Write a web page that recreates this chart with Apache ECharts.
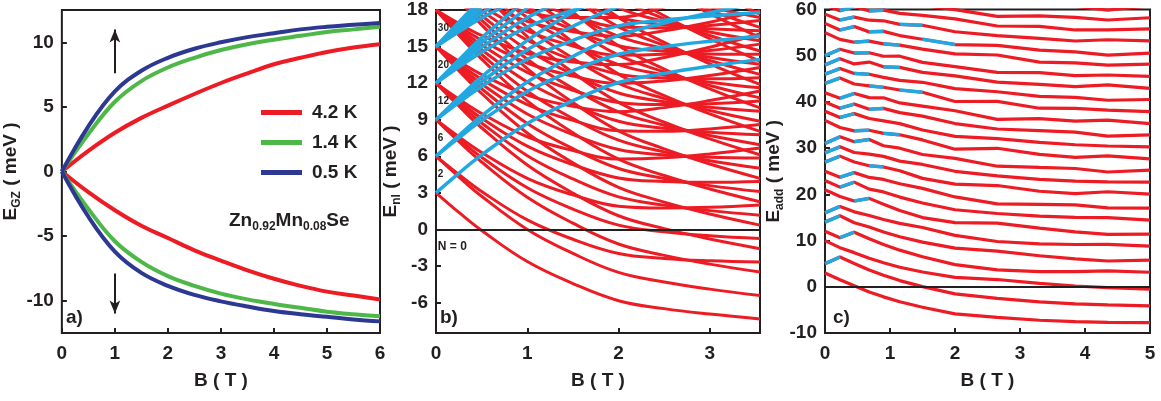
<!DOCTYPE html>
<html><head><meta charset="utf-8">
<script src="https://cdn.jsdelivr.net/npm/echarts@6/dist/echarts.min.js"></script>
<style>html,body{margin:0;padding:0;background:#fff}#c{width:1161px;height:401px}</style>
</head><body><div id="c"></div>
<script>
// ---------- Panel a: giant Zeeman splitting E_GZ(B) ----------
const aB = [0,0.5,1,1.5,2,2.5,3,3.5,4,4.5,5,5.5,6];
const aUp42 = [0,1.6,3.0,4.15,5.1,6.0,6.85,7.6,8.3,8.8,9.25,9.6,9.85];
const aUp14 = [0,2.9,5.4,7.0,8.05,8.8,9.4,9.85,10.2,10.5,10.8,11.0,11.2];
const aUp05 = [0,3.5,6.2,7.8,8.8,9.5,10.0,10.4,10.7,11.0,11.2,11.35,11.5];
const aDn42 = [0,-1.6,-3.0,-4.2,-5.15,-6.1,-6.9,-7.65,-8.3,-8.85,-9.3,-9.6,-9.9];
const aDn14 = [0,-2.9,-5.4,-7.0,-8.1,-8.85,-9.45,-9.9,-10.25,-10.55,-10.85,-11.05,-11.2];
const aDn05 = [0,-3.5,-6.2,-7.85,-8.85,-9.55,-10.05,-10.45,-10.8,-11.05,-11.25,-11.45,-11.6];
const aLegend = ['4.2 K','1.4 K','0.5 K'];
const aArrows = [[1,7.6,11.0],[1,-7.9,-11.0]];
const aYTicks = [-10,-5,0,5,10];

// ---------- Panel b: single-particle levels E_nl(B) ----------
const bB = [0,0.25,0.5,1,1.5,2,2.5,3,3.55];
const bRed = [
 [3,1.4,-0.09,-2.64,-4.44,-5.85,-6.5,-6.95,-7.35],
 [6,4.31,2.72,0.0,-1.97,-3.53,-4.31,-4.9,-5.43],
 [6,4.5,3.11,0.78,-0.81,-1.98,-2.38,-2.57,-2.67],
 [9,7.21,5.53,2.64,0.51,-1.2,-2.13,-2.85,-3.5],
 [9,7.41,5.92,3.42,1.67,0.35,-0.19,-0.52,-0.75],
 [9,7.6,6.31,4.19,2.83,1.9,1.75,1.81,2.0],
 [12,10.12,8.34,5.28,2.98,1.12,0.06,-0.79,-1.58],
 [12,10.31,8.73,6.05,4.14,2.67,1.99,1.54,1.17],
 [12,10.51,9.12,6.83,5.31,4.22,3.93,3.86,3.93],
 [12,10.7,9.51,7.6,6.47,5.77,5.87,6.19,6.68],
 [15,13.02,11.15,7.91,5.46,3.45,2.24,1.26,0.35],
 [15,13.22,11.54,8.69,6.62,5.0,4.18,3.59,3.1],
 [15,13.41,11.93,9.47,7.78,6.55,6.12,5.92,5.85],
 [15,13.6,12.32,10.24,8.94,8.1,8.05,8.24,8.6],
 [15,13.8,12.71,11.02,10.1,9.65,9.99,10.57,11.35],
 [18,15.93,13.97,10.55,7.93,5.77,4.42,3.32,2.27],
 [18,16.12,14.35,11.33,9.09,7.32,6.36,5.64,5.02],
 [18,16.32,14.74,12.1,10.26,8.87,8.3,7.97,7.77],
 [18,16.51,15.13,12.88,11.42,10.42,10.24,10.3,10.53],
 [18,16.7,15.52,13.65,12.58,11.97,12.18,12.62,13.28],
 [18,16.9,15.91,14.43,13.74,13.52,14.11,14.95,16.03],
 [21,18.83,16.78,13.19,10.41,8.09,6.61,5.37,4.19],
 [21,19.03,17.17,13.96,11.57,9.64,8.55,7.7,6.95],
 [21,19.22,17.55,14.74,12.73,11.19,10.48,10.02,9.7],
 [21,19.41,17.94,15.52,13.89,12.74,12.42,12.35,12.45],
 [21,19.61,18.33,16.29,15.05,14.29,14.36,14.68,15.2],
 [21,19.8,18.72,17.07,16.22,15.84,16.3,17.0,17.95],
 [21,20.0,19.11,17.84,17.38,17.39,18.24,19.33,20.71],
 [24,21.74,19.59,15.82,12.88,10.42,8.79,7.43,6.12],
 [24,21.93,19.98,16.6,14.04,11.97,10.73,9.75,8.87],
 [24,22.13,20.37,17.38,15.21,13.52,12.67,12.08,11.62],
 [24,22.32,20.75,18.15,16.37,15.07,14.61,14.4,14.37],
 [24,22.51,21.14,18.93,17.53,16.62,16.54,16.73,17.13],
 [27,24.64,22.4,18.46,15.36,12.74,10.98,9.48,8.04],
 [27,24.84,22.79,19.24,16.52,14.29,12.91,11.81,10.79],
 [27,25.03,23.18,20.01,17.68,15.84,14.85,14.13,13.55],
 [27,25.22,23.57,20.79,18.84,17.39,16.79,16.46,16.3],
 [30,27.55,25.21,21.1,17.83,15.07,13.16,11.53,9.97],
 [30,27.74,25.6,21.87,18.99,16.62,15.1,13.86,12.72],
 [30,27.94,25.99,22.65,20.16,18.17,17.04,16.19,15.47],
 [33,30.45,28.03,23.74,20.31,17.39,15.34,13.59,11.89],
 [33,30.65,28.41,24.51,21.47,18.94,17.28,15.91,14.64],
 [33,30.84,28.8,25.29,22.63,20.49,19.22,18.24,17.39],
 [36,33.36,30.84,26.37,22.78,19.71,17.53,15.64,13.81],
 [36,33.55,31.23,27.15,23.94,21.26,19.47,17.97,16.57],
 [39,36.26,33.65,29.01,25.26,22.04,19.71,17.7,15.74],
 [42,39.17,36.46,31.65,27.73,24.36,21.9,19.75,17.66]
];
const bBlue = [
 [3,4.6,6.11,8.69,10.56,12.05,12.8,13.39,13.95],
 [6,7.51,8.92,11.32,13.03,14.37,14.99,15.44,15.87],
 [6,7.7,9.31,12.1,14.19,15.92,16.93,17.77,18.63],
 [9,10.41,11.73,13.96,15.51,16.7,17.17,17.5,17.8],
 [9,10.61,12.12,14.74,16.67,18.25,19.11],
 [9,10.8,12.51,15.51,17.83,19.8],
 [12,13.32,14.54,16.6,17.98,19.02],
 [12,13.51,14.93,17.37,19.14],
 [12,13.71,15.32,18.15],
 [12,13.9,15.71,18.92],
 [15,16.22,17.35,19.23],
 [15,16.42,17.74,20.01],
 [15,16.61,18.13],
 [15,16.8,18.52],
 [15,17.0,18.91]
];
const bShellLabels = ['2','6','12','20','30'];
const bShellY = [4.5,7.5,10.5,13.5,16.5];
const bYTicks = [-6,-3,0,3,6,9,12,15,18];
const bXTicks = [0,1,2,3];

// ---------- Panel c: addition energies E_add(B) ----------
const cB = [0,0.23,0.45,0.68,0.9,1.15,1.5,2.0,2.65,3.3,3.85,4.35,5.0];
const cLines = [
 [3,1.53,0.21,-1.11,-2.18,-3.25,-4.44,-5.85,-6.63,-7.24,-7.55,-7.69,-7.76],
 [5,6.44,5.04,3.64,2.49,1.34,0.03,-1.53,-2.49,-3.26,-3.69,-3.93,-4.13],
 [10,8.47,7.39,6.17,5.19,4.23,3.19,2.02,1.57,0.73,0.17,-0.18,-0.49],
 [12,10.62,11.81,10.39,9.16,7.93,6.51,4.8,3.66,3.3,3.29,3.44,3.14],
 [14,15.36,13.87,12.92,11.86,10.82,9.67,8.35,7.71,6.71,6.03,5.58,5.75],
 [16,17.38,16.22,15.44,14.56,13.71,12.83,11.12,9.8,9.28,9.15,9.19,8.78],
 [21,19.53,18.56,19.13,17.84,16.52,14.98,13.9,13.77,12.69,11.89,11.33,11.38],
 [23,21.56,22.64,21.14,20.53,19.41,18.14,16.67,15.86,15.27,15.01,14.95,14.41],
 [25,23.71,24.7,23.66,23.23,22.3,21.3,19.44,17.95,17.84,17.74,17.09,17.02],
 [27,28.27,26.99,26.19,25.93,25.1,23.46,22.22,21.91,20.67,20.14,20.56,20.04],
 [29,30.3,29.05,28.72,28.22,27.19,26.47,24.99,24.0,23.25,22.87,22.71,22.65],
 [31,32.45,31.4,31.88,30.51,29.99,28.62,27.77,26.09,25.82,25.6,24.84,25.26],
 [36,34.47,33.74,33.88,33.2,32.89,31.78,29.77,29.97,28.66,27.99,28.32,27.68],
 [38,36.62,37.47,36.41,35.9,35.31,33.93,32.54,32.06,31.23,30.73,30.46,30.29],
 [40,38.65,39.53,38.41,38.6,37.69,36.94,35.32,34.14,33.81,33.46,32.6,32.89],
 [42,40.8,41.82,40.94,40.89,39.78,39.09,38.09,36.23,36.38,35.85,36.08,35.31],
 [44,45.18,43.88,43.47,43.18,42.58,42.1,40.09,40.11,38.64,38.59,38.22,37.92],
 [46,47.21,46.16,45.99,45.3,44.67,44.25,42.87,42.2,41.21,40.98,40.36,40.53],
 [48,49.36,48.23,48.63,47.59,47.47,46.4,45.64,44.29,43.79,43.32,43.69,42.95],
 [50,51.39,50.58,50.63,49.88,49.9,48.56,47.64,46.38,46.36,45.71,45.83,45.55],
 [55,53.54,52.92,53.16,52.57,52.28,51.42,50.41,50.16,48.62,48.45,47.97,48.16],
 [57,55.56,56.3,55.16,55.27,54.36,53.57,52.42,52.25,51.2,50.84,50.11,50.58],
 [59,57.72,58.36,57.68,57.56,56.79,56.58,55.19,54.34,53.77,53.18,53.45,53.19],
 [61,59.74,60.65,59.69,59.85,59.17,58.73,57.96,56.43,56.35,55.57,55.59,55.79],
 [63,61.89,62.71,62.21,61.97,61.25,60.88,59.97,58.52,58.6,58.3,57.73,58.21],
 [65,66.09,65.0,64.74,64.26,64.06,63.03,62.05,62.31,60.92,60.7,59.87,60.82]
];
// line numbers N that are spin-up (blue) on each B interval
const cBlueSegs = [
 [2,5,6,10,11,12,17,18,19,20,26],
 [4,8,9,14,15,16,22,23,24,25],
 [7,12,13,18,20,21,26],
 [10,15,17,22,24,26],
 [13,19,21,26],
 [17,23,26],
 [22]
];

// ---------- styling ----------
const INK = '#231f20', RED = '#ed1c24', GREEN = '#4db848', NAVY = '#2c3892', CYAN = '#22a8e0';
const FONT = '"Liberation Sans", Arial, sans-serif';
const zip = (xs, ys) => ys.map((y, i) => [xs[i], y]);
const lbl = (margin) => ({color: INK, fontWeight: 'bold', fontSize: 19, fontFamily: FONT, margin});
const tick = {inside: true, length: 5, lineStyle: {color: INK, width: 2}};
const richName = {
  m: {fontSize: 19, fontWeight: 'bold', color: INK, fontFamily: FONT, lineHeight: 24},
  s: {fontSize: 12, fontWeight: 'bold', color: INK, fontFamily: FONT, lineHeight: 12, verticalAlign: 'bottom'}
};
const xName = {fontSize: 19, fontWeight: 'bold', color: INK, fontFamily: FONT};

function xAx(grid, min, max, extra) {
  return Object.assign({type: 'value', gridIndex: grid, min, max, axisLine: {show: false, onZero: false}, splitLine: {show: false},
    axisTick: Object.assign({}, tick), axisLabel: lbl(11), name: 'B ( T )', nameLocation: 'middle', nameGap: 38, nameTextStyle: xName}, extra || {});
}
function yAx(grid, min, max, name, gap, extra) {
  return Object.assign({type: 'value', gridIndex: grid, min, max, axisLine: {show: false, onZero: false}, splitLine: {show: false},
    axisTick: Object.assign({}, tick), axisLabel: lbl(8), name, nameRotate: 90, nameLocation: 'middle', nameGap: gap,
    nameTextStyle: {rich: richName}}, extra || {});
}

const gridBase = {show: true, borderColor: INK, borderWidth: 2, backgroundColor: 'transparent'};
const series = [];
const lineBase = {type: 'line', showSymbol: false, symbol: 'none', silent: true, clip: true, animation: false};
const zeroLine = {silent: true, symbol: 'none', label: {show: false}, lineStyle: {color: INK, width: 2, type: 'solid'}, data: [{yAxis: 0}]};
const smallLbl = (size) => ({show: true, position: 'right', distance: 0, color: INK, opacity: 1, fontSize: size,
  fontWeight: 'bold', fontFamily: FONT, textBorderWidth: 0, textShadowBlur: 0});

// panel a
[[aUp42, aLegend[0], RED], [aDn42, aLegend[0], RED], [aUp14, aLegend[1], GREEN], [aDn14, aLegend[1], GREEN],
 [aUp05, aLegend[2], NAVY], [aDn05, aLegend[2], NAVY]].forEach(([ys, name, col], i) => {
  const s = Object.assign({}, lineBase, {name, xAxisIndex: 0, yAxisIndex: 0, smooth: 0.4, data: zip(aB, ys),
    itemStyle: {color: col}, lineStyle: {color: col, width: 4}});
  if (i === 0) {
    s.markLine = {silent: true, symbol: ['none', 'arrow'], symbolSize: [8, 13], label: {show: false},
      lineStyle: {color: INK, width: 2, type: 'solid'},
      data: aArrows.map(a => [{coord: [a[0], a[1]]}, {coord: [a[0], a[2]]}])};
  }
  series.push(s);
});

// panel b
bRed.forEach((ys, i) => {
  const s = Object.assign({}, lineBase, {xAxisIndex: 1, yAxisIndex: 1, smooth: 0.4, data: zip(bB, ys),
    lineStyle: {color: RED, width: 3}});
  if (i === 0) s.markLine = zeroLine;
  series.push(s);
});
bBlue.forEach(ys => series.push(Object.assign({}, lineBase, {xAxisIndex: 1, yAxisIndex: 1, smooth: 0.4, data: zip(bB, ys),
  lineStyle: {color: CYAN, width: 3.5}})));
series.push({type: 'scatter', xAxisIndex: 1, yAxisIndex: 1, symbolSize: 0, silent: true, animation: false, z: 5,
  data: bShellY.map((y, i) => ({value: [0.02, y], label: {formatter: bShellLabels[i]}})),
  label: smallLbl(10)});
series.push({type: 'scatter', xAxisIndex: 1, yAxisIndex: 1, symbolSize: 0, silent: true, animation: false, z: 5,
  data: [{value: [0.02, -1.4], label: {formatter: 'N = 0'}}],
  label: smallLbl(12)});

// panel c
cLines.forEach((ys, i) => {
  const s = Object.assign({}, lineBase, {xAxisIndex: 2, yAxisIndex: 2, data: zip(cB, ys),
    lineStyle: {color: RED, width: 3.2}});
  if (i === 0) s.markLine = zeroLine;
  series.push(s);
});
cBlueSegs.forEach((ns, k) => ns.forEach(n => {
  const ys = cLines[n - 1];
  series.push(Object.assign({}, lineBase, {xAxisIndex: 2, yAxisIndex: 2,
    data: [[cB[k], ys[k]], [cB[k + 1], ys[k + 1]]], lineStyle: {color: CYAN, width: 3.5}}));
}));

const richZn = {
  m: {fontSize: 19, fontWeight: 'bold', fill: INK, fontFamily: FONT, lineHeight: 24},
  s: {fontSize: 12, fontWeight: 'bold', fill: INK, fontFamily: FONT, lineHeight: 12, verticalAlign: 'bottom'}
};
const panelTxt = (t, left, top) => ({type: 'text', left, top, silent: true,
  style: {text: t, fill: INK, fontSize: 19, fontWeight: 'bold', fontFamily: FONT}});

const option = {
  animation: false,
  backgroundColor: '#fff',
  grid: [
    Object.assign({left: 57, top: 10, width: 323, height: 323}, gridBase),
    Object.assign({left: 436, top: 10, width: 324, height: 323}, gridBase),
    Object.assign({left: 825, top: 9, width: 325, height: 324}, gridBase)
  ],
  xAxis: [
    xAx(0, 0, 6, {interval: 1}),
    xAx(1, 0, 3.55, {axisLabel: Object.assign(lbl(11), {customValues: bXTicks}), axisTick: Object.assign({customValues: bXTicks}, tick)}),
    xAx(2, 0, 5, {interval: 1})
  ],
  yAxis: [
    yAx(0, -12.5, 12.5, '{m|E}{s|GZ}{m| ( meV )}', 28, {axisLabel: Object.assign(lbl(8), {customValues: aYTicks}), axisTick: Object.assign({customValues: aYTicks}, tick)}),
    yAx(1, -8.5, 18, '{m|E}{s|nl}{m| ( meV )}', 31, {axisLabel: Object.assign(lbl(8), {customValues: bYTicks}), axisTick: Object.assign({customValues: bYTicks}, tick)}),
    yAx(2, -10, 60, '{m|E}{s|add}{m| ( meV )}', 38, {interval: 10})
  ],
  legend: {left: 256, top: 98, orient: 'vertical', itemWidth: 41, itemHeight: 5, itemGap: 11, icon: 'rect',
    selectedMode: false, data: aLegend,
    textStyle: {fontSize: 19, fontWeight: 'bold', color: INK, fontFamily: FONT, padding: [0, 0, 0, 5]}},
  graphic: [
    {type: 'text', left: 229, top: 211, silent: true, style: {text: '{m|Zn}{s|0.92}{m|Mn}{s|0.08}{m|Se}', rich: richZn}},
    panelTxt('a)', 66, 308),
    panelTxt('b)', 440, 308),
    panelTxt('c)', 833, 308)
  ],
  series
};
const chart = echarts.init(document.getElementById('c'), null, {renderer: 'canvas'});
chart.setOption(option);
</script>
</body></html>
